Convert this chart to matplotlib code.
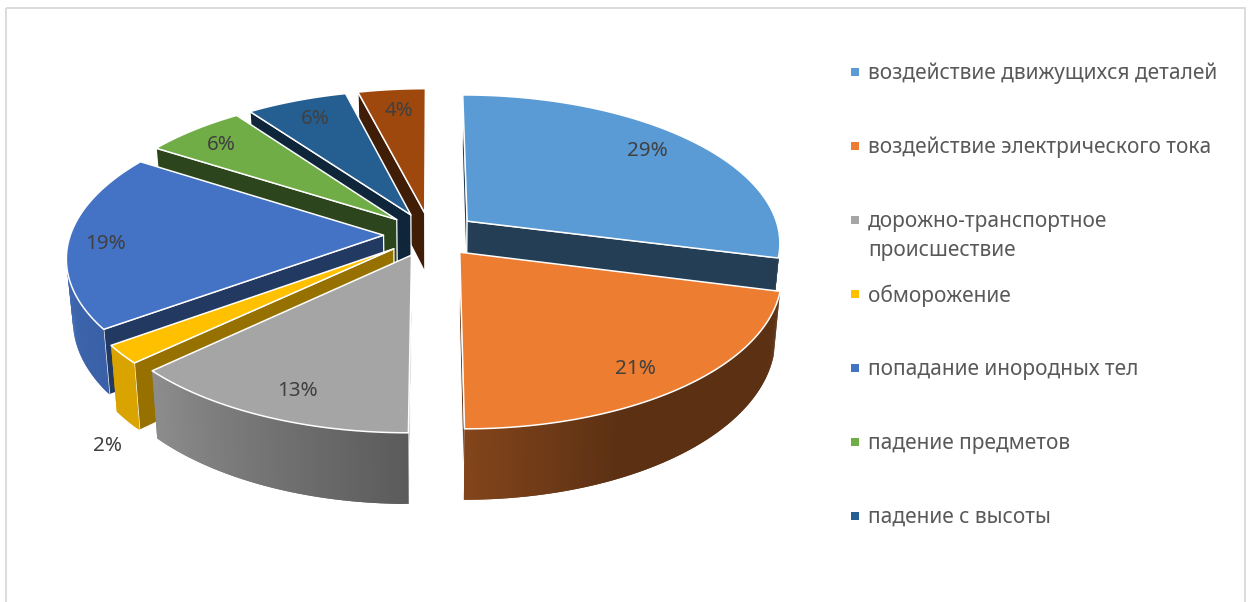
import numpy as np
import matplotlib
matplotlib.use("Agg")
import matplotlib.pyplot as plt
from matplotlib.collections import PolyCollection
from matplotlib.colors import to_rgb
from matplotlib.patches import Polygon, Rectangle

# ---- data -------------------------------------------------------------
categories = [
    "воздействие движущихся деталей",
    "воздействие электрического тока",
    "дорожно-транспортное\nпроисшествие",
    "обморожение",
    "попадание инородных тел",
    "падение предметов",
    "падение с высоты",
    "",
]
values = [29, 21, 13, 2, 19, 6, 6, 4]
colors = ["#5B9BD5", "#ED7D31", "#A5A5A5", "#FFC000",
          "#4472C4", "#70AD47", "#255E91", "#9E480E"]

# ---- style / layout ---------------------------------------------------
CX, CY = 430.5, 234.5
A, B, K = 313.0, 147.0, 0.1377   # projection of the pie disc
EXPLODE = 0.15
DEPTH = 60.0
Z_SHRINK = 0.018
RIM_FROM, RIM_TO = 88.0, 274.0   # part of the outer rim that faces the viewer
wall_factor = [0.40, 0.40, 0.50, 0.59, 0.50, 0.40, 0.40, 0.40]
draw_order = [7, 6, 5, 0, 4, 3, 2, 1]
label_xy = [(647, 150), (635, 368), (297, 390), (108, 445),
            (105, 243), (221, 144), (315, 118), (399, 110)]
legend_y = [71, 145, 219, 293, 367, 441, 515]
shade_angle = [0, 100, 155, 180, 226, 234, 260, 360]
shade_value = [.4, .39, .39, .55, .85, .85, .9, .9]
TEXT_FONT = ["Noto Sans", "DejaVu Sans"]


def project(x, y, z=0.0):
    x, y = np.asarray(x, float), np.asarray(y, float)
    w = 1 + K * y
    sx = A * x / w * (1 - Z_SHRINK * z)
    sy = -B * y / w + z * DEPTH / w
    return CX + sx, CY + sy


def dark(color, f):
    return tuple(c * f for c in to_rgb(color))


fig = plt.figure(figsize=(12.51, 6.02), dpi=100, facecolor="white")
ax = fig.add_axes([0, 0, 1, 1])
ax.set_xlim(0, 1251)
ax.set_ylim(602, 0)
ax.axis("off")

ax.add_patch(Rectangle((6, 8), 1239, 620, fill=False, ec="#D9D9D9", lw=1.3, zorder=0))

edges = np.cumsum([0] + values) / sum(values) * 360.0


def wall(ex, ey, th, face):
    tx, ty = ex + np.sin(np.radians(th)), ey + np.cos(np.radians(th))
    xs = [ex, tx, tx, ex]
    ys = [ey, ty, ty, ey]
    zs = [0, 0, 1, 1]
    p = [tuple(float(v) for v in project(a, b, c)) for a, b, c in zip(xs, ys, zs)]
    ax.add_patch(Polygon(p, closed=True, fc=face, ec="white", lw=0.9, joinstyle="round"))


for i in draw_order:
    t0, t1 = edges[i], edges[i + 1]
    mid = np.radians((t0 + t1) / 2)
    ex, ey = EXPLODE * np.sin(mid), EXPLODE * np.cos(mid)
    col = colors[i]
    wc = dark(col, wall_factor[i])

    # only the walls that face the viewer
    if t0 >= 180 or t0 == 0:
        wall(ex, ey, t0, wc)
    if t1 <= 180:
        wall(ex, ey, t1, wc)

    # outer rim, shaded step by step along the arc; quads overlap to avoid seams
    r0, r1 = max(t0, RIM_FROM), min(t1, RIM_TO)
    if r1 > r0:
        th = np.linspace(r0, r1, max(8, int((r1 - r0) * 1.5)) + 1)
        rx, ry = ex + np.sin(np.radians(th)), ey + np.cos(np.radians(th))
        tx, ty = project(rx, ry, 0)
        bx, by = project(rx, ry, 1)
        quads, fcs = [], []
        n = len(th)
        for j in range(n - 1):
            k = min(j + 2, n - 1)
            quads.append([(tx[j], ty[j]), (tx[k], ty[k]), (bx[k], by[k]), (bx[j], by[j])])
            fcs.append(dark(col, float(np.interp((th[j] + th[j + 1]) / 2, shade_angle, shade_value))))
        ax.add_collection(PolyCollection(quads, facecolors=fcs, edgecolors="none"))

    # top face
    arc = np.linspace(t0, t1, max(8, int((t1 - t0) * 1.5)) + 1)
    px = np.r_[ex, ex + np.sin(np.radians(arc))]
    py = np.r_[ey, ey + np.cos(np.radians(arc))]
    sx, sy = project(px, py, 0)
    ax.add_patch(Polygon(np.c_[sx, sy], closed=True, fc=col, ec="white", lw=1.1, joinstyle="round"))

for v, (x, y) in zip(values, label_xy):
    ax.text(x, y + 1, f"{v}%", ha="center", va="center", fontsize=14.8,
            color="#404040", family=TEXT_FONT)

for name, col, y in zip(categories[:7], colors[:7], legend_y):
    ax.add_patch(Rectangle((851, y - 3), 8, 8, fc=col, ec="none"))
    if "\n" in name:
        first, second = name.split("\n")
        ax.text(868, y, first, ha="left", va="center_baseline", fontsize=15.05, color="#595959", family=TEXT_FONT)
        ax.text(868, y + 29, second, ha="left", va="center_baseline", fontsize=15.05, color="#595959", family=TEXT_FONT)
    else:
        ax.text(868, y, name, ha="left", va="center_baseline", fontsize=15.05, color="#595959", family=TEXT_FONT)

fig.savefig("out.png", dpi=100, facecolor="white")
